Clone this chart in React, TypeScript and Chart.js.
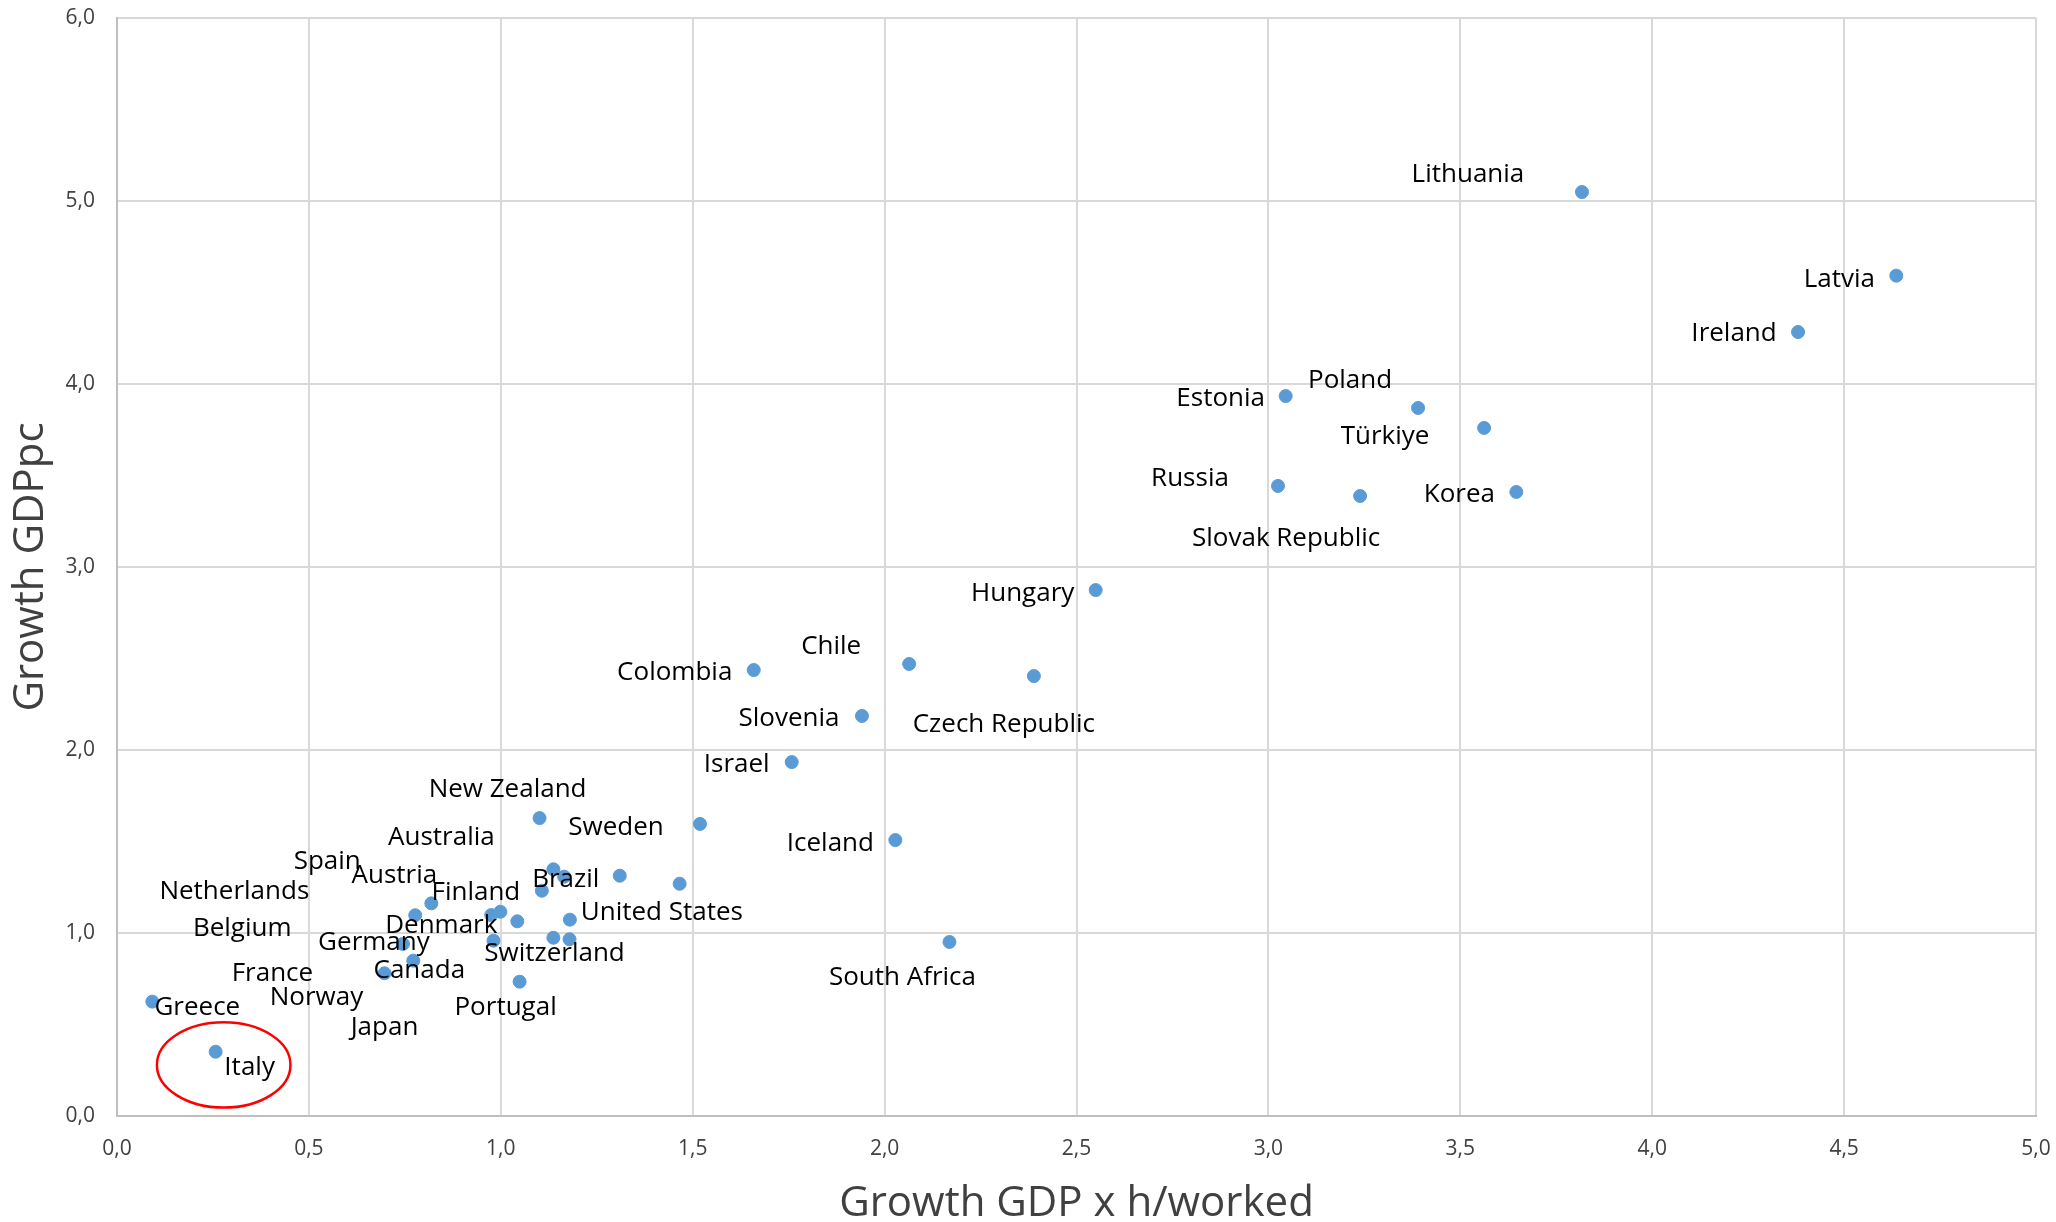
import React, { useEffect, useRef } from 'react';
import { Chart, registerables } from 'chart.js';

Chart.register(...registerables);

// Country names ('' = point shown without a label)
const countries = [
  'Lithuania', 'Latvia', 'Ireland', 'Estonia', 'Poland', 'Türkiye', 'Russia', 'Slovak Republic', 'Korea',
  'Hungary', 'Chile', 'Czech Republic', 'Colombia', 'Slovenia', 'Israel', 'Iceland', 'South Africa',
  'Sweden', 'New Zealand', 'Australia', '', 'Finland', 'Brazil', '', 'Netherlands', 'Spain', 'Belgium',
  'Austria', 'Denmark', 'United States', 'France', 'Japan', 'Switzerland', 'Germany', 'Canada', 'Norway',
  'Portugal', 'Greece', 'Italy',
];

// Growth of GDP per hour worked (x)
const gdpPerHourGrowth = [
  3.817, 4.636, 4.380, 3.045, 3.390, 3.562, 3.025, 3.239, 3.646,
  2.550, 2.064, 2.389, 1.659, 1.941, 1.758, 2.028, 2.169,
  1.519, 1.101, 1.137, 1.165, 1.107, 1.310, 1.466, 0.819, 0.777, 0.975,
  0.999, 1.043, 1.180, 1.137, 1.179, 0.981, 0.745, 0.772, 0.697,
  1.049, 0.092, 0.257,
];

// Growth of GDP per capita (y)
const gdpPcGrowth = [
  5.049, 4.592, 4.284, 3.934, 3.869, 3.760, 3.443, 3.388, 3.410,
  2.874, 2.470, 2.404, 2.437, 2.186, 1.934, 1.508, 0.951,
  1.596, 1.628, 1.348, 1.308, 1.231, 1.313, 1.269, 1.162, 1.097, 1.098,
  1.116, 1.064, 1.073, 0.974, 0.966, 0.958, 0.940, 0.849, 0.780,
  0.734, 0.625, 0.351,
];

// Label placement relative to each point, in pixels (centre of text)
const labelOffsets: [number, number][] = [
  [-114, -17], [-57, 4], [-64, 2], [-65, 3], [-68, -27], [-99, 9], [-88, -7], [-74, 43], [-57, 3],
  [-73, 4], [-78, -17], [-30, 49], [-79, 3], [-73, 3], [-55, 3], [-65, 4], [-47, 36],
  [-84, 4], [-32, -28], [-112, -32], [0, 0], [-66, 2], [-54, 4], [0, 0], [-197, -12], [-88, -54], [-249, 14],
  [-106, -36], [-76, 4], [92, -7], [-281, 36], [-185, 88], [61, 13], [-29, -1], [6, 10], [-68, 24],
  [-14, 26], [45, 6], [34, 16],
];

// Highlight ring around Italy: centre and radii in axis units
const highlightCenter = { x: 0.278, y: 0.279 };
const highlightRadius = { x: 0.174, y: 0.233 };

const xTitle = 'Growth GDP x h/worked';
const yTitle = 'Growth GDPpc';

const FONT = '"Open Sans", "Noto Sans", sans-serif';

const fmt = (v: number | string) => Number(v).toFixed(1).replace('.', ',');

const labelPlugin = {
  id: 'countryLabels',
  afterDatasetsDraw(chart: any) {
    const { ctx, scales } = chart;
    // red highlight ellipse
    const cx = scales.x.getPixelForValue(highlightCenter.x);
    const cy = scales.y.getPixelForValue(highlightCenter.y);
    const rx = Math.abs(scales.x.getPixelForValue(highlightCenter.x + highlightRadius.x) - cx);
    const ry = Math.abs(scales.y.getPixelForValue(highlightCenter.y + highlightRadius.y) - cy);
    ctx.save();
    ctx.beginPath();
    ctx.ellipse(cx, cy, rx, ry, 0, 0, Math.PI * 2);
    ctx.strokeStyle = '#ff0000';
    ctx.lineWidth = 2.5;
    ctx.stroke();
    ctx.restore();

    const meta = chart.getDatasetMeta(0);
    ctx.save();
    ctx.font = `26px ${FONT}`;
    ctx.fillStyle = '#000000';
    ctx.textAlign = 'center';
    ctx.textBaseline = 'middle';
    meta.data.forEach((pt: any, i: number) => {
      const name = countries[i];
      if (!name) return;
      const [dx, dy] = labelOffsets[i];
      ctx.fillText(name, pt.x + dx, pt.y + dy);
    });
    ctx.restore();
  },
};

export default function App() {
  const canvasRef = useRef<HTMLCanvasElement | null>(null);

  useEffect(() => {
    document.body.style.margin = '0';
    const canvas = canvasRef.current;
    if (!canvas) return;
    const chart = new Chart(canvas, {
      type: 'scatter',
      data: {
        datasets: [
          {
            data: gdpPerHourGrowth.map((x, i) => ({ x, y: gdpPcGrowth[i] })),
            backgroundColor: '#5B9BD5',
            borderColor: '#5B9BD5',
            borderWidth: 1,
            pointRadius: 6.5,
            pointHoverRadius: 6.5,
          },
        ],
      },
      options: {
        responsive: false,
        animation: false,
        devicePixelRatio: 1,
        layout: { padding: { top: 18, right: 20, left: 0, bottom: 0 } },
        plugins: { legend: { display: false }, tooltip: { enabled: false } },
        scales: {
          x: {
            type: 'linear',
            min: 0,
            max: 5,
            afterFit: (s: any) => {
              s.height = 106;
              s.paddingLeft = 0;
              s.paddingRight = 0;
            },
            ticks: {
              stepSize: 0.5,
              padding: 20,
              color: '#404040',
              font: { family: FONT, size: 21 },
              callback: (v: any) => fmt(v),
            },
            grid: { color: '#d9d9d9', lineWidth: 2, drawTicks: false },
            border: { color: '#bfbfbf', width: 2 },
            title: {
              display: true,
              text: xTitle,
              color: '#404040',
              font: { family: FONT, size: 42, lineHeight: 1 },
              padding: { top: 0, bottom: -3 },
            },
          },
          y: {
            type: 'linear',
            min: 0,
            max: 6,
            afterFit: (s: any) => {
              s.width = 117;
              s.paddingTop = 0;
              s.paddingBottom = 0;
            },
            ticks: {
              stepSize: 1,
              padding: 22,
              color: '#404040',
              font: { family: FONT, size: 21 },
              callback: (v: any) => fmt(v),
            },
            grid: { color: '#d9d9d9', lineWidth: 2, drawTicks: false },
            border: { color: '#bfbfbf', width: 2 },
            title: {
              display: true,
              text: yTitle,
              color: '#404040',
              font: { family: FONT, size: 42, lineHeight: 1 },
              padding: { top: 10, bottom: 0 },
            },
          },
        },
      },
      plugins: [labelPlugin],
    });
    return () => chart.destroy();
  }, []);

  return (
    <div style={{ width: 2056, height: 1222, background: '#ffffff' }}>
      <canvas ref={canvasRef} width={2056} height={1222} />
    </div>
  );
}
